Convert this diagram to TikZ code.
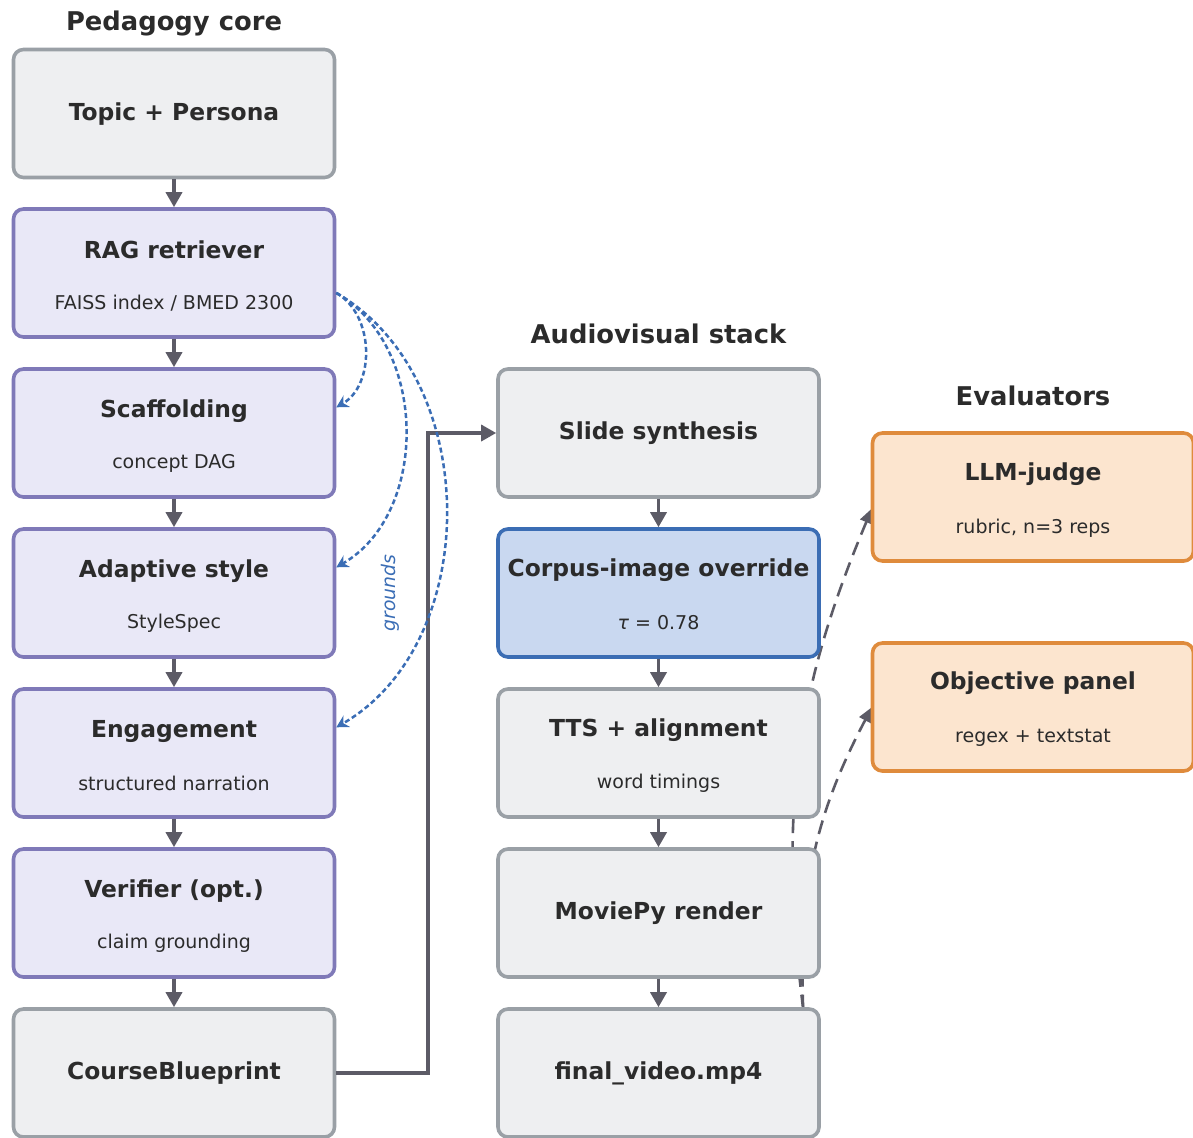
\documentclass[tikz,border=0pt]{standalone}
\usepackage{fontspec}
\setmainfont{DejaVu Sans}
\usetikzlibrary{arrows.meta, calc, positioning}

\definecolor{greyfill}{HTML}{EEEFF1}
\definecolor{greyline}{HTML}{9AA0A6}
\definecolor{purplefill}{HTML}{E9E8F7}
\definecolor{purpleline}{HTML}{7F79B8}
\definecolor{bluefill}{HTML}{C9D8F0}
\definecolor{blueline}{HTML}{3B6DB4}
\definecolor{orangefill}{HTML}{FCE5CF}
\definecolor{orangeline}{HTML}{DF8B3C}
\definecolor{arrowgrey}{HTML}{5C5B66}
\definecolor{groundblue}{HTML}{3A6DB5}
\definecolor{ink}{HTML}{2B2B2B}

\tikzset{
  box/.style={rounded corners=5pt, line width=1.8pt, minimum width=160.5pt, minimum height=64pt, inner sep=0pt},
  corebox/.style={box, draw=greyline, fill=greyfill},
  stagebox/.style={box, draw=purpleline, fill=purplefill},
  hotbox/.style={box, draw=blueline, fill=bluefill},
  evalbox/.style={box, draw=orangeline, fill=orangefill},
  lbl/.style={text=ink, inner sep=0pt, font=\fontsize{11.7}{13}\selectfont\bfseries},
  sublbl/.style={text=ink, inner sep=0pt, font=\fontsize{9.5}{11}\selectfont},
  head/.style={text=ink, inner sep=0pt, font=\fontsize{12.9}{15}\selectfont\bfseries},
  flow/.style={draw=arrowgrey, line width=1.7pt, -{Triangle[length=7.5pt,width=8pt]}},
  ground/.style={draw=groundblue, line width=1.25pt, dash pattern=on 2.5pt off 1.5pt, -{Stealth[length=6pt,width=6.5pt]}},
  judge/.style={draw=arrowgrey, line width=1.3pt, dash pattern=on 7pt off 4pt, -{Triangle[length=7.5pt,width=6.5pt]}}
}

\begin{document}
\begin{tikzpicture}[x=0.5pt, y=-0.5pt]
  \useasboundingbox (0,0) rectangle (1193,1137);

  % evaluator links run under the boxes
  \node[minimum width=160.5pt, minimum height=64pt, inner sep=0pt] (final0) at (658.5,1073) {};
  \node[minimum width=160.5pt, minimum height=64pt, inner sep=0pt] (llm0) at (1033,497) {};
  \node[minimum width=160.5pt, minimum height=64pt, inner sep=0pt] (obj0) at (1033,707) {};
  \draw[judge] (final0.24) to[bend left=15] (llm0.184);
  \draw[judge] (final0.24) to[bend left=15] (obj0.west);

  % column heads
  \node[head] (hcore) at (174,23) {Pedagogy core};
  \node[head] (hav) at (658.5,334) {Audiovisual stack};
  \node[head] (heval) at (1033,396) {Evaluators};

  % pedagogy core
  \node[corebox] (topic) at (174,113.5) {};
  \node[stagebox] (rag) at (174,273) {};
  \node[stagebox] (scaf) at (174,433) {};
  \node[stagebox] (style) at (174,593) {};
  \node[stagebox] (engage) at (174,753) {};
  \node[stagebox] (verify) at (174,913) {};
  \node[corebox] (blueprint) at (174,1073) {};

  \node[lbl] at ($(topic)+(0,0.5)$) {Topic + Persona};
  \node[lbl] at ($(rag)+(0,-23)$) {RAG retriever};
  \node[sublbl] at ($(rag)+(0,30)$) {FAISS index / BMED 2300};
  \node[lbl] at ($(scaf)+(0,-22)$) {Scaffolding};
  \node[sublbl] at ($(scaf)+(0,30)$) {concept DAG};
  \node[lbl] at ($(style)+(0,-22)$) {Adaptive style};
  \node[sublbl] at ($(style)+(0,30)$) {StyleSpec};
  \node[lbl] at ($(engage)+(0,-22)$) {Engagement};
  \node[sublbl] at ($(engage)+(0,30)$) {structured narration};
  \node[lbl] at ($(verify)+(0,-22)$) {Verifier (opt.)};
  \node[sublbl] at ($(verify)+(0,30)$) {claim grounding};
  \node[lbl] at ($(blueprint)+(0,0.5)$) {CourseBlueprint};

  % audiovisual stack
  \node[corebox] (slides) at (658.5,433) {};
  \node[hotbox] (corpus) at (658.5,593) {};
  \node[corebox] (tts) at (658.5,753) {};
  \node[corebox] (render) at (658.5,913) {};
  \node[corebox] (final) at (658.5,1073) {};

  \node[lbl] at ($(slides)+(0,0.5)$) {Slide synthesis};
  \node[lbl] at ($(corpus)+(0,-23)$) {Corpus-image override};
  \node[sublbl] at ($(corpus)+(0,29.5)$) {{\itshape τ} = 0.78};
  \node[lbl] at ($(tts)+(0,-23)$) {TTS + alignment};
  \node[sublbl] at ($(tts)+(0,30)$) {word timings};
  \node[lbl] at ($(render)+(0,0.5)$) {MoviePy render};
  \node[lbl] at ($(final)+(0,0)$) {final\_video.mp4};

  % evaluators
  \node[evalbox] (llm) at (1033,497) {};
  \node[evalbox] (obj) at (1033,707) {};
  \node[lbl] at ($(llm)+(0,-23)$) {LLM-judge};
  \node[sublbl] at ($(llm)+(0,31)$) {rubric, n=3 reps};
  \node[lbl] at ($(obj)+(0,-24)$) {Objective panel};
  \node[sublbl] at ($(obj)+(0,30.5)$) {regex + textstat};

  % main flow
  \draw[flow] (topic) -- (rag);
  \draw[flow] (rag) -- (scaf);
  \draw[flow] (scaf) -- (style);
  \draw[flow] (style) -- (engage);
  \draw[flow] (engage) -- (verify);
  \draw[flow] (verify) -- (blueprint);
  \draw[flow] (slides) -- (corpus);
  \draw[flow] (corpus) -- (tts);
  \draw[flow] (tts) -- (render);
  \draw[flow] (render) -- (final);
  \coordinate (turn) at (428,1073);
  \draw[flow] (blueprint.east) -- (turn) |- (slides.west);

  % retrieval grounds the later stages
  \draw[ground] (rag.-7) to[bend left=60] (scaf.9);
  \draw[ground] (rag.-7) to[bend left=60] (style.9);
  \draw[ground] (rag.-7) to[bend left=60] (engage.9);
  \node[text=groundblue, rotate=90, font=\fontsize{9.4}{11}\selectfont\itshape] (gr) at (390,593) {grounds};
\end{tikzpicture}
\end{document}
